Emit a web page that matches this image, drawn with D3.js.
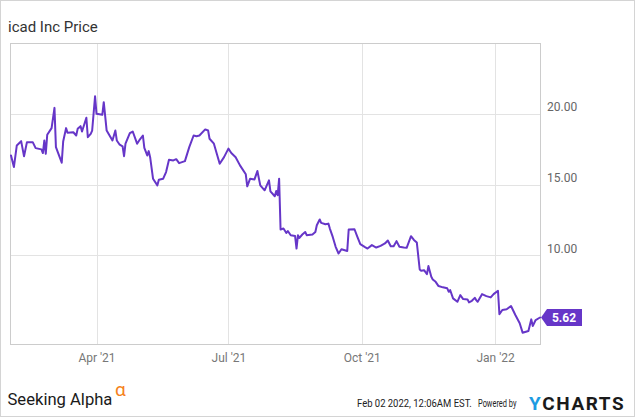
<!DOCTYPE html>
<html>
<head>
<meta charset="utf-8">
<script src="https://cdn.jsdelivr.net/npm/d3@7"></script>
<style>
  html, body { margin: 0; padding: 0; background: #fff; }
  svg { display: block; }
  text { font-family: Roboto, "Noto Sans", sans-serif; }
</style>
</head>
<body>
<svg id="chart" width="635" height="417"></svg>
<script>
const title = "icad Inc Price";
const dates = [
  "2021-02-01","2021-02-03","2021-02-05","2021-02-08","2021-02-10","2021-02-12","2021-02-16","2021-02-18",
  "2021-02-22","2021-02-23","2021-02-24","2021-02-25","2021-02-26","2021-03-01","2021-03-03","2021-03-04",
  "2021-03-08","2021-03-09","2021-03-11","2021-03-12","2021-03-16","2021-03-18","2021-03-19","2021-03-21",
  "2021-03-22","2021-03-25","2021-03-26","2021-03-28","2021-03-29","2021-03-31","2021-04-01","2021-04-05",
  "2021-04-06","2021-04-08","2021-04-12","2021-04-14","2021-04-15","2021-04-17","2021-04-19","2021-04-20",
  "2021-04-21","2021-04-24","2021-04-26","2021-04-29","2021-05-01","2021-05-03","2021-05-04","2021-05-06",
  "2021-05-07","2021-05-08","2021-05-10","2021-05-13","2021-05-14","2021-05-17","2021-05-19","2021-05-21",
  "2021-05-24","2021-05-26","2021-05-28","2021-06-01","2021-06-04","2021-06-07","2021-06-09","2021-06-11",
  "2021-06-15","2021-06-17","2021-06-18","2021-06-21","2021-06-23","2021-06-25","2021-06-28","2021-07-01",
  "2021-07-03","2021-07-06","2021-07-09","2021-07-13","2021-07-14","2021-07-16","2021-07-19","2021-07-21",
  "2021-07-23","2021-07-26","2021-07-29","2021-07-30","2021-08-02","2021-08-03","2021-08-04","2021-08-05",
  "2021-08-06","2021-08-08","2021-08-10","2021-08-11","2021-08-13","2021-08-16","2021-08-17","2021-08-18",
  "2021-08-19","2021-08-21","2021-08-23","2021-08-24","2021-08-28","2021-08-30","2021-08-31","2021-09-02",
  "2021-09-03","2021-09-06","2021-09-08","2021-09-09","2021-09-11","2021-09-13","2021-09-15","2021-09-17",
  "2021-09-21","2021-09-22","2021-09-26","2021-09-28","2021-09-30","2021-10-03","2021-10-05","2021-10-08",
  "2021-10-11","2021-10-14","2021-10-17","2021-10-19","2021-10-21","2021-10-23","2021-10-25","2021-10-27",
  "2021-10-30","2021-11-01","2021-11-04","2021-11-06","2021-11-08","2021-11-10","2021-11-11","2021-11-13",
  "2021-11-15","2021-11-16","2021-11-18","2021-11-19","2021-11-21","2021-11-23","2021-11-26","2021-11-29",
  "2021-11-30","2021-12-01","2021-12-03","2021-12-06","2021-12-08","2021-12-10","2021-12-13","2021-12-14",
  "2021-12-16","2021-12-18","2021-12-19","2021-12-20","2021-12-23","2021-12-26","2021-12-29","2021-12-31",
  "2022-01-03","2022-01-04","2022-01-06","2022-01-09","2022-01-12","2022-01-15","2022-01-18","2022-01-20",
  "2022-01-24","2022-01-26","2022-01-27","2022-01-29","2022-02-01"
];
const prices = [
  17.06,16.24,17.77,18.07,17.00,18.00,18.00,17.58,
  17.49,17.23,18.12,17.18,18.52,18.99,20.42,17.65,
  16.55,18.05,18.99,18.66,18.70,18.47,18.94,19.13,
  18.75,19.72,18.35,18.59,18.82,21.24,20.00,19.93,
  20.82,18.82,18.12,18.82,18.12,17.82,17.70,17.01,
  17.89,18.63,18.75,17.89,18.20,18.47,17.60,17.06,
  17.37,16.94,15.42,14.95,15.35,15.42,15.89,16.76,
  16.71,16.80,16.52,16.66,17.65,18.47,18.42,18.47,
  18.90,18.82,18.24,17.89,17.18,16.48,16.94,17.54,
  17.23,16.94,16.36,15.73,14.88,15.42,15.37,15.96,
  14.95,14.60,15.30,14.53,14.18,14.55,14.25,15.42,
  11.83,11.90,11.59,11.73,11.43,11.38,10.49,11.43,
  11.24,11.48,11.66,11.43,11.48,11.66,12.13,12.54,
  12.30,12.20,12.25,11.90,11.31,10.61,10.14,10.44,
  10.32,11.83,11.85,11.31,10.80,10.61,10.49,10.73,
  10.56,10.68,10.85,11.06,10.65,10.65,11.01,10.61,
  10.56,10.54,11.36,11.10,10.92,9.01,8.92,8.96,
  8.68,9.25,8.49,8.31,8.14,7.84,7.75,7.68,
  7.44,7.56,6.97,6.73,7.20,6.92,6.90,6.69,
  6.80,7.01,6.85,6.73,7.27,7.13,7.04,7.27,
  7.51,5.85,6.15,6.20,6.43,5.80,5.21,4.55,
  4.67,5.49,5.02,5.44,5.62
];
const yTicks = [10, 15, 20];
const xTicks = ["2021-04-01","2021-07-01","2021-10-01","2022-01-01"];
const xTickLabels = ["Apr '21","Jul '21","Oct '21","Jan '22"];
const lastLabel = "5.62";

const parse = d3.timeParse("%Y-%m-%d");
const data = dates.map((d, i) => ({ date: parse(d), value: prices[i] }));

const svg = d3.select("#chart");
const W = 635, H = 417;
const plot = { left: 10, right: 540, top: 43, bottom: 344 };
const lineColor = "#6636c8";

// squeeze a text horizontally so it spans exactly `w` pixels from its x
function fitWidth(sel, w) {
  const node = sel.node();
  const natural = node.getComputedTextLength();
  const x0 = +sel.attr("x");
  const s = w / natural;
  sel.attr("transform", `translate(${x0},0) scale(${s},1) translate(${-x0},0)`);
  return sel;
}

// outer frame
svg.append("rect").attr("x", 0.5).attr("y", 0.5).attr("width", W - 1).attr("height", H - 1)
  .attr("fill", "#fff").attr("stroke", "#d4d4d4");

const x = d3.scaleTime()
  .domain([parse("2021-02-01"), parse("2022-02-01")])
  .range([11, plot.right]);
const y = d3.scaleLinear()
  .domain([3.75, 25])
  .range([plot.bottom, plot.top]);

// gridlines
svg.append("g").selectAll("line").data(yTicks).join("line")
  .attr("x1", plot.left).attr("x2", plot.right)
  .attr("y1", d => Math.round(y(d)) + 0.5).attr("y2", d => Math.round(y(d)) + 0.5)
  .attr("stroke", "#e3e3e3").attr("stroke-width", 1);
svg.append("g").selectAll("line").data(xTicks).join("line")
  .attr("x1", d => Math.round(x(parse(d))) + 0.5).attr("x2", d => Math.round(x(parse(d))) + 0.5)
  .attr("y1", plot.top).attr("y2", plot.bottom)
  .attr("stroke", "#e3e3e3").attr("stroke-width", 1);

// plot border
svg.append("rect").attr("x", plot.left + 0.5).attr("y", plot.top + 0.5)
  .attr("width", plot.right - plot.left).attr("height", plot.bottom - plot.top)
  .attr("fill", "none").attr("stroke", "#cccccc");

// y labels
svg.append("g").selectAll("text").data(yTicks).join("text")
  .attr("x", 547).attr("y", d => y(d) - 2.5)
  .attr("font-size", 12).attr("fill", "#666")
  .text(d => d3.format(".2f")(d));

// x labels
svg.append("g").selectAll("text").data(xTicks).join("text")
  .attr("x", d => x(parse(d)) + 0.5).attr("y", 362)
  .attr("text-anchor", "middle")
  .attr("font-size", 12).attr("fill", "#777")
  .text((d, i) => xTickLabels[i]);

// line
const line = d3.line().x(d => x(d.date)).y(d => y(d.value)).curve(d3.curveLinear);
svg.append("path").datum(data)
  .attr("d", line)
  .attr("fill", "none").attr("stroke", lineColor)
  .attr("stroke-width", 2).attr("stroke-linejoin", "round").attr("stroke-linecap", "round");

// last value label
const last = data[data.length - 1];
const ly = y(last.value);
const lx = plot.right + 1;
svg.append("path")
  .attr("d", `M${lx},${ly} L${lx + 6},${ly - 8.5} L${lx + 41},${ly - 8.5} L${lx + 41},${ly + 8.5} L${lx + 6},${ly + 8.5} Z`)
  .attr("fill", lineColor);
svg.append("text").attr("x", lx + 23).attr("y", ly + 4.5)
  .attr("text-anchor", "middle").attr("font-size", 12).attr("font-weight", "bold")
  .attr("fill", "#fff").text(lastLabel);

// title
svg.append("text").attr("x", 8).attr("y", 32)
  .attr("font-size", 15).attr("fill", "#333").text(title);

// footer: Seeking Alpha
const sa = svg.append("text").attr("x", 7.5).attr("y", 405)
  .attr("font-family", "Lato, 'DejaVu Sans', sans-serif")
  .attr("font-size", 17).attr("fill", "#1a1a1a")
  .text("Seeking Alpha");
fitWidth(sa, 105);
svg.append("text").attr("x", 115).attr("y", 396)
  .attr("font-family", "'DejaVu Sans', sans-serif")
  .attr("font-size", 19).attr("fill", "#f58220").text("α");

// footer: timestamp + YCharts
const ts = svg.append("text").attr("x", 357).attr("y", 407)
  .attr("font-size", 11).attr("fill", "#222")
  .text("Feb 02 2022, 12:06AM EST.");
fitWidth(ts, 115);
const pb = svg.append("text").attr("x", 478).attr("y", 407)
  .attr("font-size", 11).attr("fill", "#222")
  .text("Powered by");
fitWidth(pb, 38.5);
const yc = svg.append("text").attr("x", 529).attr("y", 410)
  .attr("font-size", 18).attr("font-weight", "bold").attr("letter-spacing", 1.5);
yc.append("tspan").attr("fill", "#1d9be2").text("Y");
yc.append("tspan").attr("fill", "#1a1a1a").text("CHARTS");
fitWidth(yc, 96);
</script>
</body>
</html>
